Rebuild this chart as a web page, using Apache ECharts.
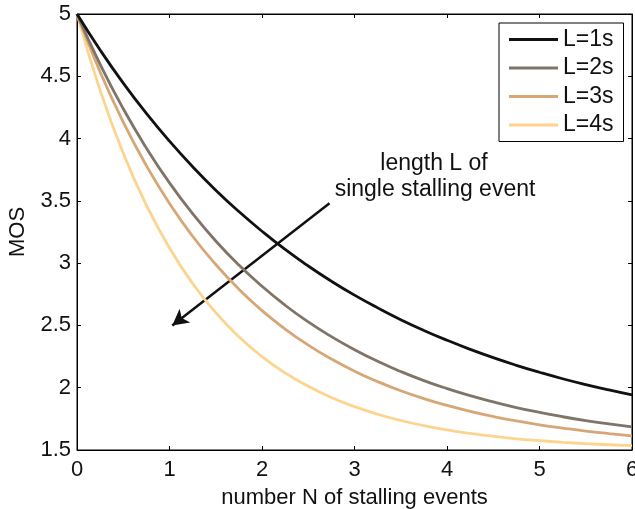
<!DOCTYPE html>
<html>
<head>
<meta charset="utf-8">
<script src="https://cdn.jsdelivr.net/npm/echarts@6/dist/echarts.min.js"></script>
<style>html,body{margin:0;padding:0;background:#fff;overflow:hidden}#c{width:635px;height:509px}</style>
</head>
<body>
<div id="c"></div>
<script>
var N = [0,0.25,0.5,0.75,1,1.25,1.5,1.75,2,2.25,2.5,2.75,3,3.25,3.5,3.75,4,4.25,4.5,4.75,5,5.25,5.5,5.75,6];
var mosL1 = [5.000,4.711,4.445,4.202,3.979,3.774,3.586,3.414,3.256,3.110,2.977,2.855,2.743,2.641,2.546,2.460,2.381,2.308,2.241,2.180,2.124,2.072,2.025,1.982,1.942];
var mosL2 = [5.000,4.596,4.239,3.924,3.644,3.397,3.178,2.985,2.814,2.662,2.528,2.410,2.305,2.212,2.130,2.057,1.993,1.936,1.886,1.841,1.802,1.767,1.736,1.709,1.685];
var mosL3 = [5.000,4.535,4.132,3.783,3.479,3.216,2.989,2.791,2.619,2.471,2.342,2.230,2.133,2.049,1.976,1.913,1.858,1.810,1.769,1.733,1.702,1.676,1.652,1.632,1.614];
var mosL4 = [5.000,4.387,3.882,3.465,3.121,2.837,2.603,2.410,2.250,2.119,2.011,1.921,1.848,1.787,1.737,1.695,1.661,1.633,1.610,1.590,1.575,1.562,1.551,1.542,1.535];
var seriesNames = ['L=1s','L=2s','L=3s','L=4s'];
var arrowStart = [2.73, 3.48];
var arrowEnd = [1.03, 2.50];
var annotation = ['length L of', 'single stalling event'];
var xLabel = 'number N of stalling events';
var yLabel = 'MOS';

var FONT = 'Liberation Sans, Arial, Helvetica, sans-serif';
var colors = ['#111111', '#7f7467', '#d6a676', '#fdd48e'];
var datasets = [mosL1, mosL2, mosL3, mosL4];

function pairs(ys){ return N.map(function(x,i){ return [x, ys[i]]; }); }

var series = datasets.map(function(d, i){
  var s = {
    name: seriesNames[i], type: 'line', data: pairs(d), smooth: true,
    showSymbol: false, silent: true, z: 10 - i,
    lineStyle: { color: colors[i], width: 2.8 },
    itemStyle: { color: colors[i] }
  };
  if (i === 0) {
    s.markLine = {
      silent: true, symbol: ['none', 'arrow'], symbolSize: [13, 16],
      label: { show: false },
      lineStyle: { color: '#111', width: 2.5, type: 'solid' },
      data: [[{ coord: arrowStart }, { coord: arrowEnd }]]
    };
  }
  return s;
});

var chart = echarts.init(document.getElementById('c'), null, { width: 635, height: 509, renderer: 'canvas' });
chart.setOption({
  animation: false,
  backgroundColor: '#fff',
  textStyle: { fontFamily: FONT },
  grid: { left: 77, right: 3, top: 14, bottom: 59, containLabel: false, outerBoundsMode: 'none', show: true, borderColor: '#000', borderWidth: 1, backgroundColor: 'transparent' },
  legend: {
    left: 499, top: 23, orient: 'vertical',
    data: seriesNames,
    icon: 'rect', itemWidth: 49, itemHeight: 3, itemGap: 5.5, itemTextGap: 5,
    padding: [5, 10, 5, 10],
    borderColor: '#000', borderWidth: 1, backgroundColor: '#fff',
    textStyle: { fontFamily: FONT, fontSize: 23, color: '#111' },
    selectedMode: false
  },
  xAxis: [{
    type: 'value', min: 0, max: 6, interval: 1,
    name: xLabel, nameLocation: 'middle', nameGap: 37,
    nameTextStyle: { fontFamily: FONT, fontSize: 22, color: '#111' },
    axisLine: { show: true, onZero: false, lineStyle: { color: '#000', width: 1 } },
    axisTick: { show: true, inside: true, length: 4, lineStyle: { color: '#000' } },
    axisLabel: { fontFamily: FONT, fontSize: 22, color: '#111', margin: 9 },
    splitLine: { show: false }
  }, {
    type: 'value', min: 0, max: 6, interval: 1, position: 'top',
    axisLine: { show: true, onZero: false, lineStyle: { color: '#000', width: 1 } },
    axisTick: { show: true, inside: true, length: 4, lineStyle: { color: '#000' } },
    axisLabel: { show: false }, splitLine: { show: false }
  }],
  yAxis: [{
    type: 'value', min: 1.5, max: 5, interval: 0.5,
    name: yLabel, nameLocation: 'middle', nameGap: 48, nameRotate: 90,
    nameTextStyle: { fontFamily: FONT, fontSize: 22, color: '#111' },
    axisLine: { show: true, onZero: false, lineStyle: { color: '#000', width: 1 } },
    axisTick: { show: true, inside: true, length: 4, lineStyle: { color: '#000' } },
    axisLabel: { fontFamily: FONT, fontSize: 22, color: '#111', margin: 6 },
    splitLine: { show: false }
  }, {
    type: 'value', min: 1.5, max: 5, interval: 0.5, position: 'right',
    axisLine: { show: true, onZero: false, lineStyle: { color: '#000', width: 1 } },
    axisTick: { show: true, inside: true, length: 4, lineStyle: { color: '#000' } },
    axisLabel: { show: false }, splitLine: { show: false }
  }],
  graphic: [
    { type: 'text', x: 434, y: 164, z: 100, style: { text: annotation[0], fontFamily: FONT, fontSize: 23, fill: '#111', textAlign: 'center', textVerticalAlign: 'middle' } },
    { type: 'text', x: 435, y: 190, z: 100, style: { text: annotation[1], fontFamily: FONT, fontSize: 23, fill: '#111', textAlign: 'center', textVerticalAlign: 'middle' } }
  ],
  series: series
});
</script>
</body>
</html>
